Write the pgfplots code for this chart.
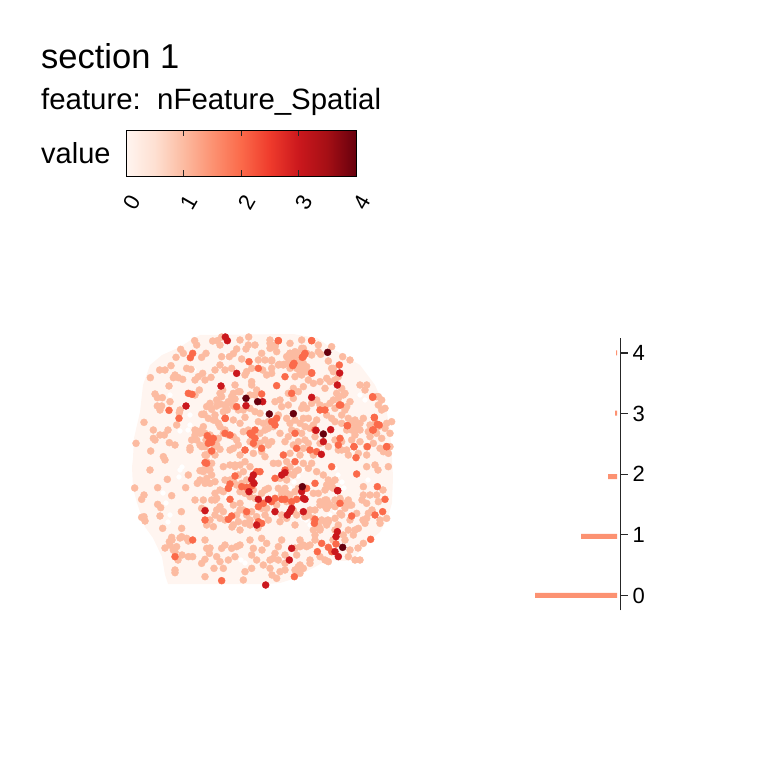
\documentclass[border=0pt]{standalone}
\usepackage{fontspec}
\setmainfont{Liberation Sans}
\usepackage{pgfplots}
\pgfplotsset{compat=1.18}
\definecolor{r0}{HTML}{FFF5F0}
\definecolor{r1}{HTML}{FCBBA1}
\definecolor{r2}{HTML}{FB6A4A}
\definecolor{r3}{HTML}{CB181D}
\definecolor{r4}{HTML}{67000D}
\definecolor{barc}{HTML}{FC9272}
\pgfplotsset{
  colormap={reds}{rgb255=(255,245,240) rgb255=(254,224,210) rgb255=(252,187,161) rgb255=(252,146,114) rgb255=(251,106,74) rgb255=(239,59,44) rgb255=(203,24,29) rgb255=(165,15,21) rgb255=(103,0,13)},
  /pgfplots/table/c1/.style={x expr={120+\thisrowno{0}/3},y expr={325+\thisrowno{1}/3},header=false},
  /pgfplots/table/c2/.style={x expr={260+\thisrowno{0}/3},y expr={325+\thisrowno{1}/3},header=false},
  /pgfplots/table/c3/.style={x expr={120+\thisrowno{0}/3},y expr={460+\thisrowno{1}/3},header=false},
  /pgfplots/table/c4/.style={x expr={260+\thisrowno{0}/3},y expr={460+\thisrowno{1}/3},header=false},
  /pgfplots/table/c5/.style={x expr={200+\thisrowno{0}/3},y expr={390+\thisrowno{1}/3},header=false},
  /pgfplots/table/c6/.style={x expr={270+\thisrowno{0}/3},y expr={390+\thisrowno{1}/3},header=false},
  /pgfplots/table/c7/.style={x expr={200+\thisrowno{0}/3},y expr={460+\thisrowno{1}/3},header=false},
  /pgfplots/table/c8/.style={x expr={270+\thisrowno{0}/3},y expr={460+\thisrowno{1}/3},header=false},
  /pgfplots/table/c9/.style={x expr={340+\thisrowno{0}/3},y expr={390+\thisrowno{1}/3},header=false},
  /pgfplots/table/c10/.style={x expr={270+\thisrowno{0}/3},y expr={335+\thisrowno{1}/3},header=false},
  spot/.style={only marks, mark=*, mark size=3.5pt, mark options={draw=none}, color=#1},
}
\begin{document}
\begin{tikzpicture}
\path[use as bounding box] (0,0) rectangle (768pt,768pt);
\begin{axis}[at={(0,0)},anchor=south west,scale only axis,width=768pt,height=768pt,
  xmin=0,xmax=768,ymin=0,ymax=768,y dir=reverse,hide axis,clip=false]
\node[anchor=base west,inner sep=0pt,font=\fontsize{34.5}{37}\selectfont] at (axis cs:41,69) {section 1};
\node[anchor=base west,inner sep=0pt,font=\fontsize{29.4}{32}\selectfont] at (axis cs:41,110) {feature:\ \ nFeature\_Spatial};
\node[anchor=base west,inner sep=0pt,font=\fontsize{29}{32}\selectfont] at (axis cs:41,164) {value};
% tissue outline
\addplot[fill=r0,draw=none] coordinates {
(200,335)(293,334)(317,338)(327,345)(343,355)(360,365)(375,385)(387,413)(390,432)(392,458)(393,477)(392,503)(388,517)(380,532)(367,543)(353,560)(343,561)(327,560)(315,567)(303,573)(293,579)(280,583)(267,584)(220,584)(168,584)(165,575)(162,557)(153,538)(145,527)(137,503)(133,488)(132,467)(133,458)(134,438)(140,412)(143,385)(150,365)(162,355)(180,347)(194,338)} --cycle;
% gaps in the tissue
\addplot[only marks,mark=*,mark size=2.4pt,mark options={draw=none},color=white] coordinates {
(225,355)(228,358)(170,395)(190,425)(188,430)(190,415)(180,431)(155,395)(194,370)(187,368)
(180,470)(179,477)(182,467)(163,493)(166,503)(170,515)(168,522)(241,560)(245,563)(227,497)(230,503)
(335,367)(332,371)(360,395)(365,400)(301,432)(297,432)(240,445)(245,448)(266,413)(272,417)(368,480)
(335,468)(338,475)(342,482)(344,488)(310,525)(306,520)(302,518)(330,515)(335,510)(300,420)
(302,470)(298,476)(294,482)(290,488)(286,494)(280,497)(276,502)(237,423)(262,452)(258,448)(266,456)(255,443)};
% value 1
\addplot[spot=r1] coordinates {
(170,545)(175,552)(178,560)(165,548)(172,540)(182,555)(175,570)(180,538)
(205,540)(210,548)(225,520)(232,527)(240,510)(250,520)(258,528)(240,530)(225,545)(240,545)(250,540)(262,550)(270,560)(285,555)(295,548)(300,540)(310,545)(315,535)(300,565)(285,570)(272,575)(295,570)(310,560)(320,530)(328,520)(320,505)(335,530)(345,540)(350,550)(358,548)(355,530)(363,520)(372,510)(380,520)(370,495)(362,500)(378,470)(383,490)(350,505)(340,500)(350,520)(333,540)
(195,430)(200,445)(205,455)(215,445)(225,430)(210,470)(200,480)(195,500)(205,510)(215,500)(220,490)(230,480)(235,465)(230,450)(190,450)(175,445)(168,430)(180,410)(195,395)(205,380)(215,370)(175,375)(165,370)(160,410)(155,440)(150,470)(165,460)(220,345)(240,340)(255,345)(265,360)(245,375)(235,385)(250,395)(225,405)(215,420)};
\addplot[spot=r1] table[c1] {
224 47
230 60
278 48
292 47
305 36
386 36
385 60
378 72
350 72
340 86
328 95
182 73
190 85
168 97
245 97
258 85
153 122
119 135
91 158
160 158
175 158
200 130
213 133
188 163
235 155
225 165
248 145
273 157
147 183
238 195
105 207
112 218
127 218
112 243
125 243
150 230
250 268
178 263
72 292
170 300
100 315
100 340
120 330
133 330
48 355
148 353
92 378
130 395
240 318
225 330
240 325
215 345
230 345
210 368
245 365
258 345
285 345
295 340
285 365
300 373
245 268
265 280
250 305
300 205
290 225
305 215
318 243
310 260
322 255
330 232
345 222
340 205
360 200
395 180
410 195
380 140
395 130
300 120
315 135
335 130
305 95
365 102
415 105
395 170
};
\addplot[spot=r1] table[c2] {
30 45
45 65
30 70
5 85
35 108
58 118
72 118
90 85
100 95
85 100
125 70
130 85
108 105
175 60
182 88
205 108
248 95
270 105
215 130
120 115
115 130
135 130
125 150
140 140
8 135
20 150
35 145
225 165
210 170
245 190
250 210
230 205
300 180
320 180
315 195
355 215
};
\addplot[spot=r1] table[c3] {
240 32
250 35
205 45
142 58
113 83
44 84
197 83
232 70
155 107
72 105
65 118
113 133
122 143
120 168
184 155
72 170
65 172
75 183
128 205
185 205
155 232
148 245
170 260
160 270
185 230
200 235
205 243
260 265
268 280
305 265
335 265
350 260
205 290
218 290
255 298
245 310
290 290
300 305
345 290
325 300
282 325
310 325
165 338
255 350
375 335
395 325
370 360
410 300
400 265
395 285
};
\addplot[spot=r1] table[c4] {
310 80
320 20
345 15
385 20
310 105
350 105
355 125
320 130
265 120
275 135
255 130
240 160
200 120
195 130
210 135
200 145
255 145
245 165
290 160
325 160
320 175
360 190
380 175
315 190
160 210
180 205
195 185
105 195
265 210
250 225
280 225
295 205
165 240
65 240
55 260
45 280
40 295
55 300
10 315
30 325
75 310
60 335
50 355
120 260
130 255
140 260
110 285
115 320
130 325
120 340
150 310
180 290
195 300
205 305
265 290
285 300
300 300
310 250
20 250
5 235
};
\addplot[spot=r1] table[c5] {
68 0
95 20
115 5
165 15
30 40
20 50
12 72
35 58
50 48
62 42
85 35
100 48
115 60
130 60
150 55
165 65
180 70
45 75
100 90
135 82
120 100
55 100
40 90
15 130
30 135
60 110
70 130
85 135
100 140
110 150
130 125
145 120
160 130
180 130
195 120
205 115
190 100
175 95
205 95
150 155
165 165
180 160
195 150
205 165
135 180
100 175
115 165
50 165
30 185
15 170
20 195
45 195
120 195
160 190
185 185
195 200
};
\addplot[spot=r1] table[c6] {
55 10
70 25
85 5
15 35
30 30
35 50
55 45
100 45
110 55
95 55
125 40
140 30
150 45
165 50
180 40
190 30
205 25
195 55
25 75
15 90
10 110
50 85
60 100
75 90
90 100
100 85
115 85
65 120
80 125
55 140
95 130
105 110
120 115
130 105
140 90
170 75
185 85
195 95
5 155
30 130
45 155
70 165
85 155
105 150
115 160
135 140
150 160
100 175
60 190
90 195
130 195
175 170
195 150
205 180
};
\addplot[spot=r1] table[c7] {
20 5
35 10
10 30
25 30
35 45
20 55
15 70
30 70
45 65
70 20
90 15
105 20
120 15
135 5
150 20
130 35
115 45
100 60
110 75
125 70
140 60
75 60
85 85
70 95
120 95
135 100
150 110
165 115
185 100
195 90
205 85
160 90
45 100
35 120
50 115
10 120
5 145
100 135
120 130
130 150
140 165
155 155
170 170
110 165
50 150
60 140
70 155
60 175
45 165
30 180
20 195
40 200
100 195
115 185
135 190
150 195
185 145
200 145
195 165
205 180
};
\addplot[spot=r1] table[c8] {
10 10
25 10
50 5
60 20
75 35
70 45
55 40
85 30
100 10
115 25
125 10
140 35
30 55
50 60
25 85
35 95
45 85
35 105
50 100
160 45
175 60
185 70
175 80
190 85
165 90
170 75
195 60
130 100
145 100
165 120
175 130
160 135
170 145
150 125
195 120
205 130
210 115
195 140
20 135
50 125
60 105
75 95
85 85
35 165
30 185
50 175
70 150
80 165
105 170
130 175
115 165
135 150
120 150
155 180
145 195
175 185
195 175
170 195
205 195
};
\addplot[spot=r1] table[c9] {
15 10
30 35
20 50
15 60
5 75
25 85
45 90
35 100
50 110
60 100
70 85
35 120
50 120
60 120
45 135
20 120
5 100
90 105
105 100
135 115
150 130
140 100
85 125
90 140
110 130
125 145
135 55
125 60
115 45
110 20
125 30
5 155
5 180
20 180
35 150
60 155
25 195
55 190
80 170
100 160
120 175
130 185
145 190
150 170
115 110
155 95
80 195
};
\addplot[spot=r1] table[c10] {
0 25
15 30
20 50
60 25
75 50
60 55
50 65
65 70
55 85
80 70
85 55
95 15
100 40
110 55
5 75
5 100
25 90
40 90
60 100
80 100
95 100
90 115
105 110
100 85
110 95
125 60
145 50
185 35
75 125
70 160
100 155
115 135
130 145
150 140
170 130
190 110
205 125
165 160
190 100
};
% value 2
\addplot[spot=r2] table[c1] {
218 85
211 98
205 205
216 208
147 256
177 280
316 280
387 110
415 130
262 332
270 350
275 378
275 352
};
\addplot[spot=r2] table[c2] {
55 47
155 47
134 88
127 97
100 118
238 120
155 143
238 240
340 315
352 298
343 278
338 215
262 302
282 365
322 365
380 365
240 340
};
\addplot[spot=r2] table[c3] {
260 10
255 180
218 240
165 290
305 362
};
\addplot[spot=r2] table[c4] {
240 130
163 190
352 80
375 118
368 155
345 165
275 168
332 238
185 250
228 252
205 262
215 275
172 275
103 350
290 42
};
\addplot[spot=r2] table[c5] {
75 85
30 150
40 145
25 160
75 130
90 135
155 135
165 120
150 130
165 145
160 160
135 180
185 175
110 50
185 12
};
\addplot[spot=r2] table[c6] {
65 10
20 85
15 105
150 60
165 60
135 120
120 180
80 175
40 195
75 130
140 185
5 95
205 165
};
\addplot[spot=r2] table[c7] {
15 8
105 48
90 72
85 85
125 80
140 82
155 78
170 35
180 35
90 118
175 140
140 155
85 178
95 168
190 130
175 185
185 190
};
\addplot[spot=r2] table[c8] {
15 55
45 30
75 5
185 20
135 70
15 115
5 125
35 118
45 118
80 118
65 125
135 178
110 85
};
\addplot[spot=r2] table[c9] {
98 22
2 45
22 107
103 82
118 105
98 120
42 170
140 170
48 203
};
\addplot[spot=r2] table[c10] {
25 17
125 17
105 55
100 65
72 85
68 92
125 115
20 152
45 125
};
% value 3
\addplot[spot=r3] table[c1] {
316 36
322 47
350 145
303 183
198 243
378 242
};
\addplot[spot=r3] table[c2] {
239 144
232 180
155 217
8 230
168 316
212 314
190 350
184 388
};
\addplot[spot=r3] table[c7] {
160 45
155 58
162 70
147 95
175 118
205 118
170 195
15 152
};
\addplot[spot=r3] table[c4] {
233 92
232 215
228 230
225 275
235 290
95 265
88 300
17 375
};
\addplot[spot=r3] table[c8] {
35 45
45 38
100 115
105 118
15 155
100 155
65 145
60 155
52 165
203 92
95 95
};
% value 4
\addplot[spot=r4] table[c1] {
378 220
413 230
};
\addplot[spot=r4] table[c2] {
203 82
190 327
100 266
28 267
};
\addplot[spot=r4] table[c4] {
127 80
248 262
};
\end{axis}
% colour bar fill
\begin{axis}[at={(126pt,591.5pt)},anchor=south west,scale only axis,width=230pt,height=46pt,
  xmin=0,xmax=4,ymin=0,ymax=1,view={0}{90},colormap name=reds,hide axis]
\addplot3[surf,shader=interp,point meta=x] coordinates {
(0,0,0) (4,0,0)

(0,1,0) (4,1,0)
};
\end{axis}
% colour bar frame and ticks
\begin{axis}[at={(126pt,591.5pt)},anchor=south west,scale only axis,width=230pt,height=46pt,
  xmin=0,xmax=4,ymin=0,ymax=1,
  xtick={0,1,2,3,4},ytick=\empty,tick align=inside,tick pos=both,
  major tick length=6pt,tick style={black!85,line width=0.9pt},axis line style={black,line width=1pt},
  /pgf/number format/assume math mode=true,xticklabel pos=bottom,
  x tick label style={xshift=5.6pt,yshift=-26.2pt,rotate=60,anchor=center,font=\fontsize{22}{24}\selectfont}]
\addplot[draw=none] coordinates {(0,0)(4,1)};
\end{axis}
% histogram
\begin{axis}[at={(520pt,157.5pt)},anchor=south west,scale only axis,width=100.5pt,height=272pt,
  x dir=reverse,xmin=-3.5,xmax=97,ymin=-0.2475,ymax=4.2392,
  axis y line*=right,axis x line=none,ytick={0,1,2,3,4},tick align=outside,major tick length=7pt,
  axis line style={line width=1.2pt,black!85,-},tick style={line width=1.1pt,black!85},
  /pgf/number format/assume math mode=true,
  y tick label style={font=\fontsize{22}{24}\selectfont,xshift=1.5pt}]
\addplot[xbar,bar width=5pt,fill=barc,draw=none] coordinates {(82,0)(36,0.975)(9,1.96)(2,3.01)(1,4)};
\end{axis}
\end{tikzpicture}
\end{document}
